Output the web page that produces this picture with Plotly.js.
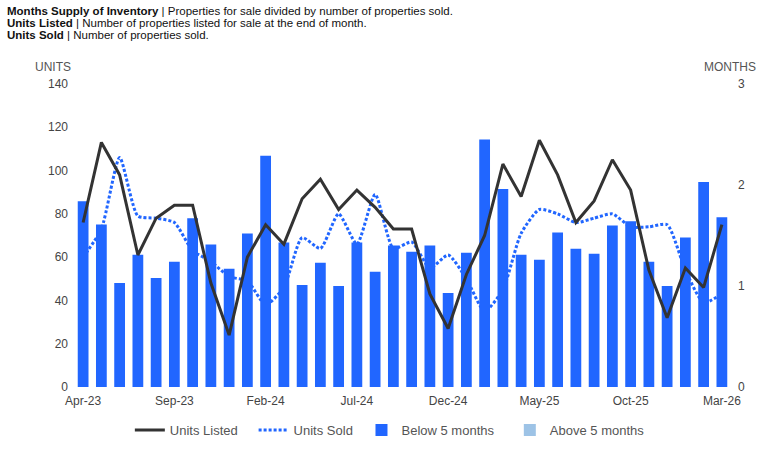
<!DOCTYPE html>
<html>
<head>
<meta charset="utf-8">
<script src="https://cdn.plot.ly/plotly-3.0.1.min.js"></script>
<style>
  html, body { margin: 0; padding: 0; background: #fff; }
  #chart { width: 767px; height: 452px; }
</style>
</head>
<body>
<div id="chart"></div>
<script>
const months = ['Apr-23','May-23','Jun-23','Jul-23','Aug-23','Sep-23','Oct-23','Nov-23','Dec-23',
  'Jan-24','Feb-24','Mar-24','Apr-24','May-24','Jun-24','Jul-24','Aug-24','Sep-24','Oct-24','Nov-24','Dec-24',
  'Jan-25','Feb-25','Mar-25','Apr-25','May-25','Jun-25','Jul-25','Aug-25','Sep-25','Oct-25','Nov-25','Dec-25',
  'Jan-26','Feb-26','Mar-26'];

const unitsListed = [76, 113, 98, 61, 78, 84, 84, 48, 24, 60, 75, 66, 87, 96, 82, 91, 83, 73, 73, 43, 27,
  52, 70, 103, 88, 114, 98, 76, 86, 105, 91, 54, 32, 55, 46, 75];

const unitsSold = [60, 73, 106, 79, 78, 76, 63, 58, 51, 49, 38, 46, 69, 64, 80, 66, 89, 64, 67, 55, 61,
  50, 35, 45, 71, 82, 80, 76, 78, 80, 74, 74, 75, 54, 39, 43];

const monthsSupply = [1.84, 1.61, 1.03, 1.31, 1.08, 1.24, 1.67, 1.41, 1.17, 1.52, 2.29, 1.43, 1.01, 1.23,
  1.00, 1.43, 1.14, 1.40, 1.34, 1.40, 0.93, 1.33, 2.45, 1.96, 1.31, 1.26, 1.53, 1.37, 1.32, 1.60, 1.64,
  1.24, 1.00, 1.48, 2.03, 1.68];

const tickLabels = ['Apr-23','Sep-23','Feb-24','Jul-24','Dec-24','May-25','Oct-25','Mar-26'];
const threshold = 5;

const below = monthsSupply.map(v => v < threshold ? v : null);
const above = monthsSupply.map(v => v >= threshold ? v : null);

const FONT = 'Liberation Sans, Arial, sans-serif';
const BLUE = '#2166ff';
const NB = '\u00a0';

const traces = [
  {
    type: 'scatter', mode: 'lines', name: 'Units Sold' + NB, x: months, y: unitsSold,
    xaxis: 'x', yaxis: 'y', legendrank: 2,
    line: { color: BLUE, width: 3, dash: '3px,2px', shape: 'spline', smoothing: 0.6 },
    hoverinfo: 'skip'
  },
  {
    type: 'bar', name: 'Below 5 months' + NB + NB + NB, x: months, y: below,
    xaxis: 'x', yaxis: 'y2', legendrank: 3,
    marker: { color: BLUE }, hoverinfo: 'skip'
  },
  {
    type: 'bar', name: 'Above 5 months', x: months, y: above,
    xaxis: 'x', yaxis: 'y2', legendrank: 4,
    marker: { color: '#9dc3e6' }, hoverinfo: 'skip'
  },
  {
    type: 'scatter', mode: 'lines', name: 'Units Listed' + NB + NB + NB, x: months, y: unitsListed,
    xaxis: 'x', yaxis: 'y3', legendrank: 1,
    line: { color: '#333333', width: 3 }, hoverinfo: 'skip'
  }
];

const layout = {
  width: 767, height: 452,
  margin: { l: 74, r: 36, t: 84, b: 65, autoexpand: false },
  paper_bgcolor: '#ffffff', plot_bgcolor: '#ffffff',
  font: { family: FONT, size: 12, color: '#444' },
  barmode: 'overlay', bargap: 0.41,
  showlegend: true,
  legend: {
    orientation: 'h', x: 0.085, xanchor: 'left', y: -0.142, yanchor: 'middle',
    font: { family: FONT, size: 13, color: '#555' },
    traceorder: 'normal', itemwidth: 30
  },
  xaxis: {
    type: 'category', range: [-0.5, months.length - 0.5],
    tickmode: 'array', tickvals: tickLabels, ticktext: tickLabels,
    showgrid: false, zeroline: false, showline: false, ticks: '', ticklabelstandoff: 5,
    tickfont: { family: FONT, size: 12, color: '#444' }
  },
  yaxis: {
    range: [0, 140], tickvals: [0, 20, 40, 60, 80, 100, 120, 140],
    showgrid: false, zeroline: false, showline: false, ticks: '', ticklabelstandoff: 5,
    tickfont: { family: FONT, size: 12, color: '#444' }
  },
  yaxis2: {
    overlaying: 'y', side: 'right', range: [0, 3], tickvals: [0, 1, 2, 3],
    showgrid: false, zeroline: false, showline: false, ticks: '', ticklabelstandoff: 6,
    tickfont: { family: FONT, size: 12, color: '#444' }
  },
  yaxis3: {
    overlaying: 'y', side: 'left', range: [0, 140], visible: false,
    showgrid: false, zeroline: false
  },
  annotations: [
    { xref: 'paper', yref: 'paper', x: -0.105, y: 1.241, xanchor: 'left', yanchor: 'middle', showarrow: false,
      text: '<b>Months Supply of Inventory</b> | Properties for sale divided by number of properties sold.',
      font: { family: FONT, size: 11.5, color: '#111' } },
    { xref: 'paper', yref: 'paper', x: -0.105, y: 1.201, xanchor: 'left', yanchor: 'middle', showarrow: false,
      text: '<b>Units Listed</b> | Number of properties listed for sale at the end of month.',
      font: { family: FONT, size: 11.5, color: '#111' } },
    { xref: 'paper', yref: 'paper', x: -0.105, y: 1.162, xanchor: 'left', yanchor: 'middle', showarrow: false,
      text: '<b>Units Sold</b> | Number of properties sold.',
      font: { family: FONT, size: 11.5, color: '#111' } },
    { xref: 'paper', yref: 'paper', x: -0.032, y: 1.056, xanchor: 'center', yanchor: 'middle', showarrow: false,
      text: 'UNITS', font: { family: FONT, size: 12, color: '#555' } },
    { xref: 'paper', yref: 'paper', x: 0.9985, y: 1.056, xanchor: 'center', yanchor: 'middle', showarrow: false,
      text: 'MONTHS', font: { family: FONT, size: 12, color: '#555' } }
  ]
};

Plotly.newPlot('chart', traces, layout, { displayModeBar: false, staticPlot: true });
</script>
</body>
</html>
